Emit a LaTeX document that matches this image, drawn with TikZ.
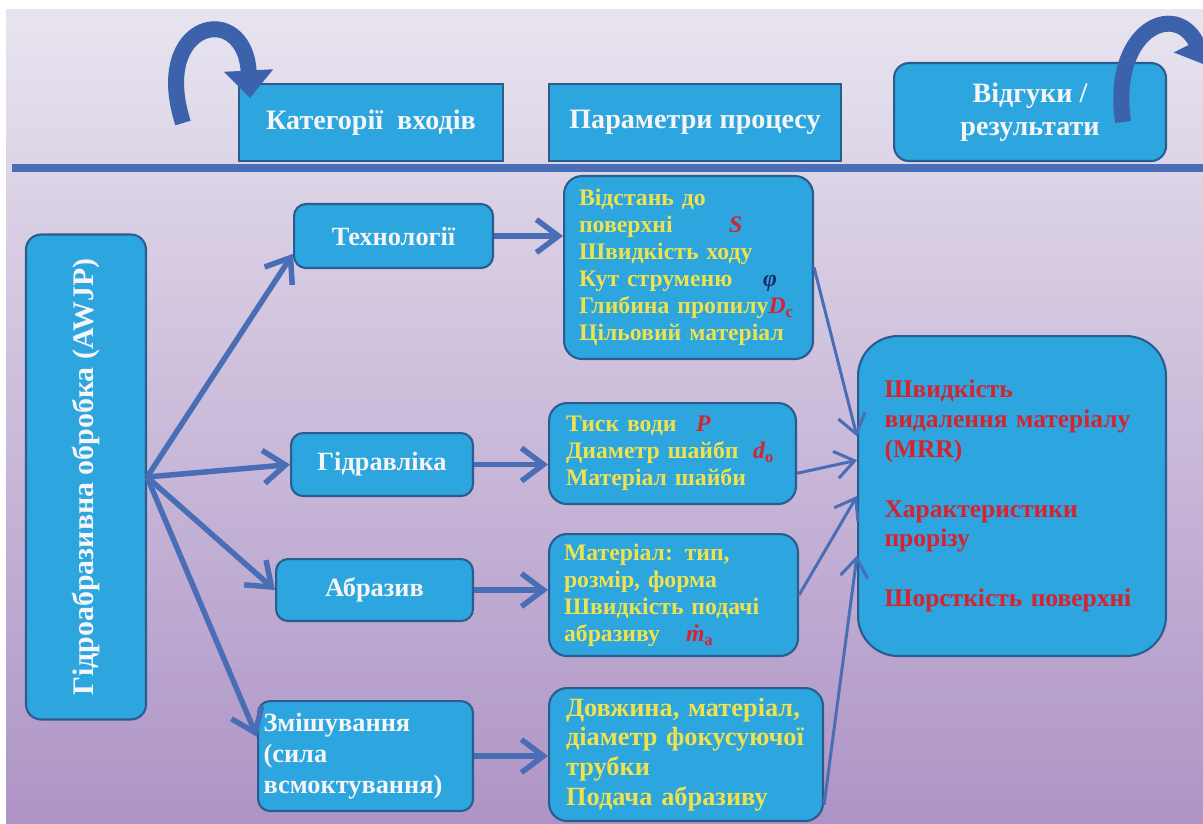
\documentclass[tikz,border=0pt]{standalone}
\usepackage{fontspec}
\setmainfont{Liberation Serif}
\usetikzlibrary{arrows.meta}

\definecolor{bgtop}{HTML}{E8E4EF}
\definecolor{bgmid}{HTML}{D2C2DE}
\definecolor{bgbot}{HTML}{AE94C6}
\definecolor{boxfill}{HTML}{2DA5DE}
\definecolor{boxedge}{HTML}{2A5C90}
\definecolor{flowcol}{HTML}{4A6EB6}
\definecolor{bendcol}{HTML}{3D62AC}
\definecolor{txtyel}{HTML}{EEE24E}
\definecolor{txtred}{HTML}{D6232F}
\definecolor{txtnavy}{HTML}{1B2868}
\definecolor{txtwht}{HTML}{F5F5F5}
\newcommand{\symr}[1]{\textcolor{txtred}{#1}}

\begin{document}
\begin{tikzpicture}[x=0.02cm, y=-0.02cm,
  hbox/.style={draw=boxedge, line width=1.2pt, fill=boxfill, anchor=north west, inner sep=0pt,
    align=center, text=txtwht, font=\fontsize{16}{19}\selectfont\bfseries},
  cbox/.style={draw=boxedge, line width=1.2pt, fill=boxfill, rounded corners=0.24cm, anchor=north west,
    inner sep=0pt, align=center, text=txtwht, font=\fontsize{15}{17.5}\selectfont\bfseries},
  pbox/.style={draw=boxedge, line width=1.2pt, fill=boxfill, rounded corners=0.36cm, anchor=north west,
    inner xsep=0.3cm, inner ysep=0pt, align=left, text=txtyel, font=\fontsize{13.5}{15.4}\selectfont\bfseries},
  flow/.style={draw=flowcol, line width=0.11cm, -{Straight Barb[length=0.44cm, width=0.66cm]}},
  into/.style={draw=flowcol, line width=0.06cm, -{Straight Barb[length=0.38cm, width=0.55cm]}},
  bendarrow/.style={draw=bendcol, line width=0.32cm, -{Triangle[length=0.55cm, width=0.95cm]}}]

\useasboundingbox (0,0) rectangle (1203,824);

% =================================================================================
% background and header
% =================================================================================
\fill[white] (0,0) rectangle (1203,824);
\fill[top color=bgtop, middle color=bgmid, bottom color=bgbot] (6,10) rectangle (1203,824);

\coordinate (hl) at (12,168);
\coordinate (hr) at (1203,168);
\draw[draw=flowcol, line width=0.16cm] (hl) -- (hr);

\node[hbox, minimum width=5.28cm, minimum height=1.54cm] (incat) at (238,83) {Категорії\ \ входів};
\node[hbox, minimum width=5.84cm, minimum height=1.54cm] (procpar) at (548,83) {Параметри процесу};
\node[hbox, rounded corners=0.3cm, minimum width=5.44cm, minimum height=1.96cm] (resp) at (893,62)
  {Відгуки /\\результати};

\coordinate (lt) at (183,123);
\coordinate (rt) at (1123,122);
\draw[bendarrow] (lt) .. controls (150,20) and (245,0) .. (250,98);
\draw[bendarrow] (rt) .. controls (1110,30) and (1175,0) .. (1208,66);

% =================================================================================
% inputs
% =================================================================================
\node[cbox, rounded corners=0.3cm, rotate=90, anchor=center, minimum width=9.7cm, minimum height=2.4cm,
  font=\fontsize{17}{20}\selectfont\bfseries] (awjp) at (86,477) {Гідроабразивна обробка (AWJP)};

\node[cbox, minimum width=3.98cm, minimum height=1.28cm] (tech) at (293,203) {Технології};
\node[cbox, minimum width=3.64cm, minimum height=1.26cm] (hydr) at (290,432) {Гідравліка};
\node[cbox, minimum width=3.94cm, minimum height=1.24cm] (abr)  at (275,558) {Абразив};
\node[cbox, minimum width=4.3cm, minimum height=2.2cm, align=left, text width=4.08cm, inner xsep=0.11cm]
  (mix) at (257,700) {Змішування\\(сила\\всмоктування)};

\draw[flow] (awjp.south) -- (tech.190);
\draw[flow] (awjp.south) -- (hydr.west);
\draw[flow] (awjp.south) -- (abr.west);
\draw[flow] (awjp.south) -- (mix.170);

% =================================================================================
% process parameters
% =================================================================================
\node[pbox, minimum height=3.66cm, text width=4.38cm] (p1) at (563,175)
  {Відстань до\\
   \makebox[3.0cm][l]{поверхні}\symr{\textit{S}}\\
   Швидкість ходу\\
   \makebox[3.68cm][l]{Кут струменю}\textcolor{txtnavy}{\textit{φ}}\\
   Глибина пропилу\symr{\textit{D}\textsubscript{c}}\\
   Цільовий матеріал};
\node[pbox, minimum height=2.02cm, text width=4.26cm, inner xsep=0.34cm] (p2) at (548,402)
  {\makebox[2.6cm][l]{Тиск води}\symr{\textit{P}}\\
   \makebox[3.74cm][l]{Диаметр шайбп}\symr{\textit{d}\textsubscript{o}}\\
   Матеріал шайби};
\node[pbox, minimum height=2.44cm, text width=4.38cm] (p3) at (548,533)
  {Матеріал: тип,\\
   розмір, форма\\
   Швидкість подачі\\
   \makebox[2.44cm][l]{абразиву}\symr{\textit{\.{m}}\textsubscript{a}}};
\node[pbox, minimum height=2.66cm, text width=4.8cm, inner xsep=0.34cm,
  font=\fontsize{15}{17}\selectfont\bfseries] (p4) at (548,687)
  {Довжина, матеріал,\\
   діаметр фокусуючої\\
   трубки\\
   Подача абразиву};

\draw[flow] (tech.east) -- (tech.east -| p1.west);
\draw[flow] (hydr.east) -- (hydr.east -| p2.west);
\draw[flow] (abr.east) -- (abr.east -| p3.west);
\draw[flow] (mix.east) -- (mix.east -| p4.west);

% =================================================================================
% responses
% =================================================================================
\node[pbox, rounded corners=0.8cm, minimum width=6.16cm, minimum height=6.4cm, text width=5.1cm,
  inner xsep=0.53cm, text=txtred, font=\fontsize{14.5}{17}\selectfont\bfseries] (out) at (857,335)
  {Швидкість\\
   видалення матеріалу\\
   (MRR)\\[17pt]
   Характеристики\\
   прорізу\\[17pt]
   Шорсткість поверхні};

\draw[into] (p1.east) -- (out.159);
\draw[into] (p2.-9) -- (out.167);
\draw[into] (p3.east) -- (out.180);
\draw[into] (p4.-20) -- (out.201);

\end{tikzpicture}
\end{document}
